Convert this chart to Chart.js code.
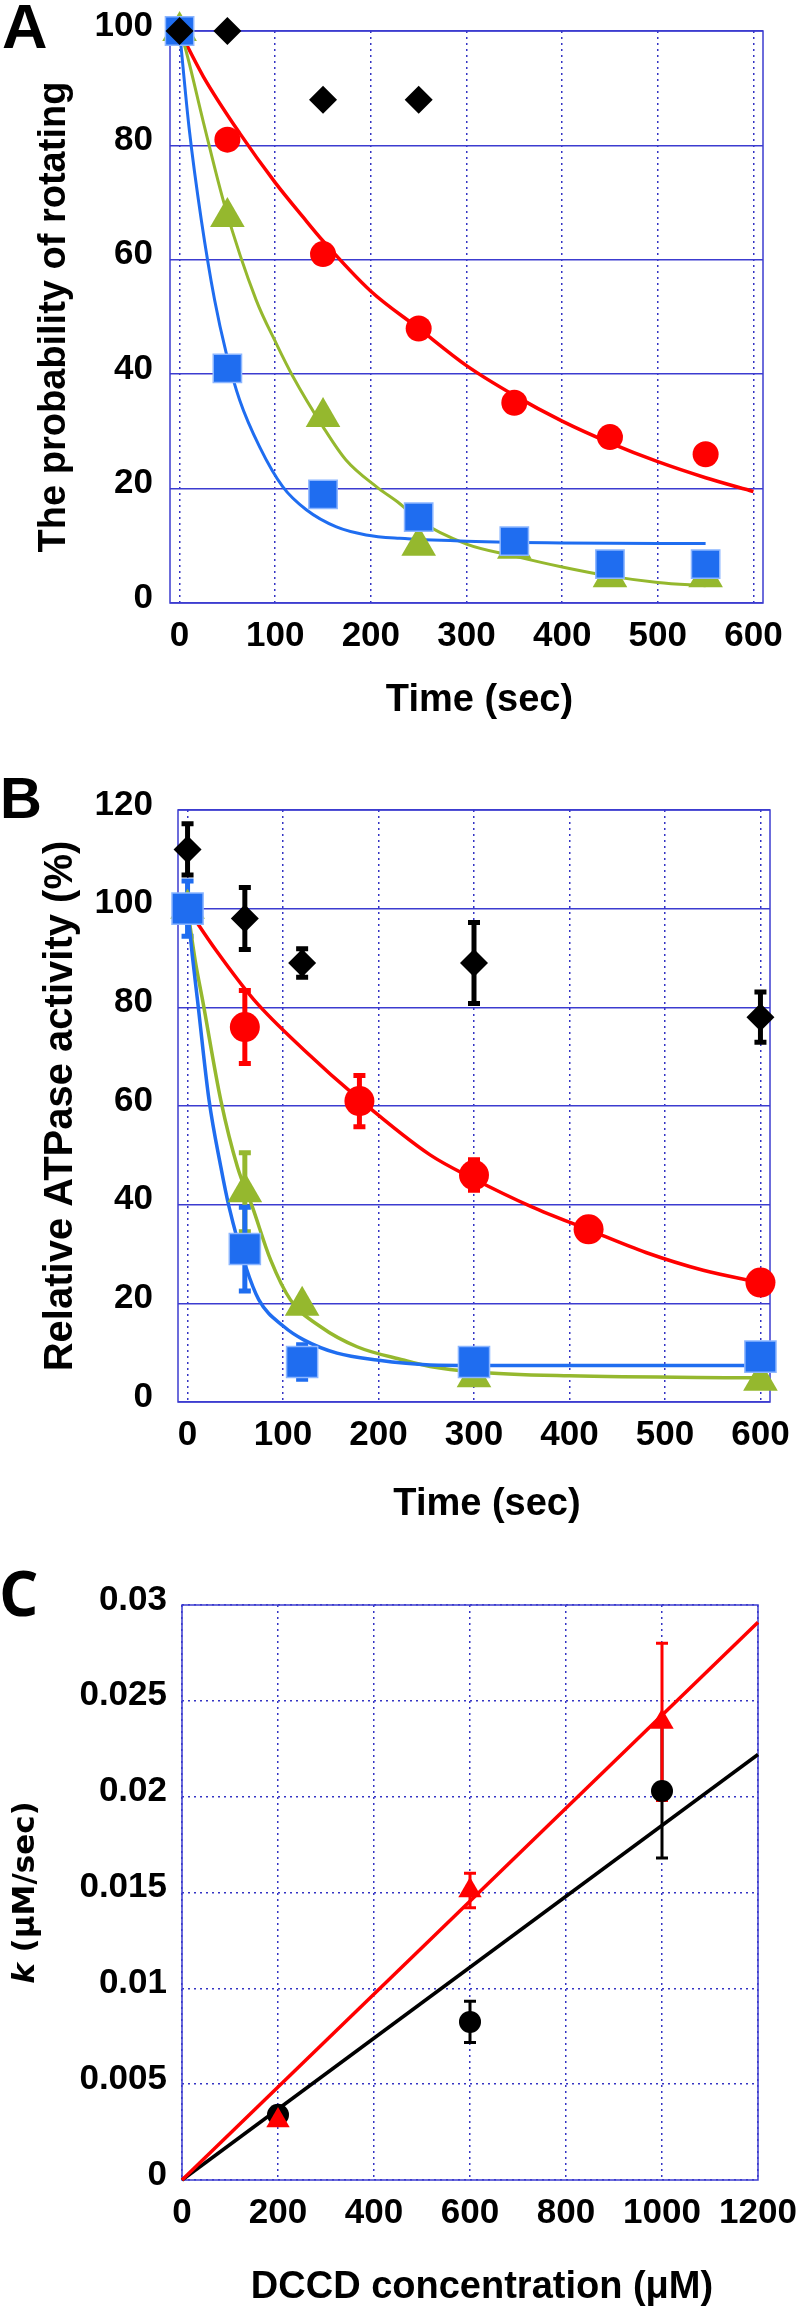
<!DOCTYPE html>
<html>
<head>
<meta charset="utf-8">
<script src="https://cdn.jsdelivr.net/npm/chart.js@4.4.1/dist/chart.umd.min.js"></script>
<style>
html, body { margin: 0; padding: 0; background: #fff; }
body { width: 800px; height: 2306px; position: relative; overflow: hidden; }
canvas { position: absolute; left: 0; }
</style>
</head>
<body>
<canvas id="chartA" width="800" height="730" style="top:0px"></canvas>
<canvas id="chartB" width="800" height="810" style="top:730px"></canvas>
<canvas id="chartC" width="800" height="766" style="top:1540px"></canvas>
<script>
// --- PANEL A: probability of rotating ---
const timeA = [0, 50, 150, 250, 350, 450, 550];
const timeBlackA = [0, 50, 150, 250];
const blackA = [100, 100, 88, 88];
const redA = [100, 81, 61, 48, 35, 29, 26];
const greenA = [100, 67.5, 32.5, 10, 9.5, 4.5, 4.5];
const blueA = [100, 41, 19, 15, 10.8, 6.8, 6.8];

const fitRedAT = [0, 25, 63, 100, 129, 150, 200, 250, 300, 350, 400, 450, 500, 550, 600];
const fitRedA = [100, 92, 82.1, 73.5, 67.5, 63.3, 54.5, 48, 41.5, 36.3, 31.8, 28, 24.7, 21.9, 19.5];
const fitGreenAT = [0, 5, 25, 47, 80, 101, 118.5, 150, 174, 206, 230, 250, 300, 350, 400, 450, 500, 550];
const fitGreenA = [100, 97.6, 84, 69.6, 53, 45.4, 39.6, 30.8, 25, 20.3, 17.4, 14.5, 10.3, 8.2, 6.3, 4.7, 3.6, 3.0];
const fitBlueAT = [0, 10, 22.7, 36.6, 48.8, 62.8, 83.7, 108, 132.5, 164, 195, 230, 300, 400, 550];
const fitBlueA = [100, 83, 67, 53, 43.7, 35.5, 27.3, 20.3, 16.3, 13.3, 11.9, 11.3, 10.8, 10.5, 10.4];

// --- PANEL B: relative ATPase activity ---
const timeB = [0, 60, 120, 300, 600];
const blackB = [112, 98, 89, 89, 78];
const errBlackB = [5.2, 6.3, 2.9, 8.2, 5.1];
const timeRedB = [0, 60, 180, 300, 420, 600];
const redB = [100, 76, 61, 46, 35, 24.2];
const errRedB = [0, 7.4, 5.2, 3.1, 0, 0];
const greenB = [100, 42.5, 19.5, 5, 4.3];
const errGreenB = [0, 8, 0, 0, 0];
const blueB = [100, 31, 8.1, 8.1, 9.2];
const errBlueB = [5.6, 8.5, 3.5, 0, 0];

const fitRedBT = [0, 30, 69.6, 121.7, 178.5, 254, 300, 360, 420, 480, 540, 600];
const fitRedB = [100, 91.5, 81.5, 71.4, 61.6, 50.1, 45.2, 39.6, 34.9, 30.3, 26.7, 24.2];
const fitGreenBT = [0, 8, 15.7, 34.8, 52.2, 67.8, 87, 107.8, 139, 177.5, 226, 254, 300, 400, 600];
const fitGreenB = [100, 89.5, 81.5, 61.2, 47.7, 39.6, 28.8, 20.7, 15.3, 11.2, 8.5, 7.2, 6.1, 5.3, 4.9];
const fitBlueBT = [0, 5, 10.4, 22.5, 34.8, 43.4, 61, 74.7, 100.8, 121.7, 156.6, 198.3, 254, 300, 600];
const fitBlueB = [100, 90.5, 81.5, 61.2, 47.7, 39.6, 27.4, 20.7, 15.3, 12.6, 9.9, 8.5, 7.5, 7.4, 7.4];

// --- PANEL C: k vs DCCD concentration ---
const concC = [200, 600, 1000];
const redC = [0.0031, 0.0151, 0.0239];
const errRedC = [0, 0.0009, 0.0041];
const blackC = [0.0034, 0.00825, 0.0203];
const errBlackC = [0, 0.00107, 0.0035];
const fitConcC = [0, 1200];
const fitRedC = [0, 0.0291];
const fitBlackC = [0, 0.0222];

// Tick labels
const xTicksAB = [0, 100, 200, 300, 400, 500, 600];
const yTicksA = [0, 20, 40, 60, 80, 100];
const yTicksB = [0, 20, 40, 60, 80, 100, 120];
const xTicksC = [0, 200, 400, 600, 800, 1000, 1200];
const yTicksC = [0, 0.005, 0.01, 0.015, 0.02, 0.025, 0.03];
const yLabelsC = ['0', '0.005', '0.01', '0.015', '0.02', '0.025', '0.03'];

// Colours
const RED = '#ff0000';
const GREEN = '#95b82e';
const BLUE = '#1f6df0';
const BLUE_EDGE = '#8cb6ff';
const GRID = '#3c3cd0';
const GRID_DOT = '#3434c4';

Chart.defaults.font.family = "'Liberation Sans', Arial, sans-serif";
Chart.defaults.font.size = 35;
Chart.defaults.font.weight = 'bold';
Chart.defaults.color = '#000';

// --- HELPERS ---
function pts(xs, ys) {
    return xs.map((x, i) => ({ x: x, y: ys[i] }));
}

function markers(label, xs, ys, style, r, color, edge, errs) {
    return {
        label: label, data: pts(xs, ys), showLine: false, clip: false,
        pointStyle: style, pointRadius: r, pointHoverRadius: r,
        backgroundColor: color, borderColor: edge || color,
        pointBorderWidth: edge ? 1.5 : 0,
        errorBars: errs, errorColor: color
    };
}

function curve(label, xs, ys, color, width) {
    return {
        label: label, data: pts(xs, ys), showLine: true, clip: false,
        borderColor: color, borderWidth: width || 3.5, pointRadius: 0, pointHoverRadius: 0,
        cubicInterpolationMode: 'monotone', fill: false
    };
}

function xAxis(ticks, min, max, height, labels) {
    return {
        type: 'linear', min: min, max: max,
        afterBuildTicks: s => { s.ticks = ticks.map(v => ({ value: v })); },
        afterFit: s => { s.height = height; s.paddingLeft = 0; s.paddingRight = 0; },
        ticks: {
            autoSkip: false, maxRotation: 0, minRotation: 0, padding: 12,
            callback: (v, i) => labels ? labels[i] : String(v)
        },
        grid: { color: GRID_DOT, lineWidth: 1.5, drawTicks: false },
        border: { display: false, dash: [2, 4] }
    };
}

function yAxis(ticks, min, max, width, pad, dotted, labels) {
    return {
        type: 'linear', min: min, max: max,
        afterBuildTicks: s => { s.ticks = ticks.map(v => ({ value: v })); },
        afterFit: s => { s.width = width; s.paddingTop = 0; s.paddingBottom = 0; },
        ticks: {
            autoSkip: false, padding: pad, labelOffset: -5,
            callback: (v, i) => labels ? labels[i] : String(v)
        },
        grid: { color: dotted ? GRID_DOT : GRID, lineWidth: 1.5, drawTicks: false },
        border: { display: false, dash: dotted ? [2, 4] : [] }
    };
}

// blue frame round the plot area
const framePlugin = {
    id: 'frame',
    beforeDatasetsDraw(chart) {
        const { ctx, chartArea: a } = chart;
        ctx.save();
        ctx.strokeStyle = GRID;
        ctx.lineWidth = 1.5;
        ctx.strokeRect(a.left, a.top, a.right - a.left, a.bottom - a.top);
        ctx.restore();
    }
};

// vertical error bars, read from dataset.errorBars
function errorBarPlugin(stem, capW, capT) {
    return {
        id: 'errorBars',
        beforeDatasetsDraw(chart) {
            const { ctx, scales } = chart;
            const sets = chart.data.datasets;
            ctx.save();
            ctx.lineCap = 'butt';
            for (let d = sets.length - 1; d >= 0; d--) {
                const ds = sets[d];
                if (!ds.errorBars) continue;
                ctx.strokeStyle = ds.errorColor;
                ds.data.forEach((p, i) => {
                    const e = ds.errorBars[i];
                    if (!e) return;
                    const x = scales.x.getPixelForValue(p.x);
                    const yTop = scales.y.getPixelForValue(p.y + e);
                    const yBot = scales.y.getPixelForValue(p.y - e);
                    ctx.lineWidth = stem;
                    ctx.beginPath();
                    ctx.moveTo(x, yTop); ctx.lineTo(x, yBot);
                    ctx.stroke();
                    ctx.lineWidth = capT;
                    ctx.beginPath();
                    ctx.moveTo(x - capW / 2, yTop); ctx.lineTo(x + capW / 2, yTop);
                    ctx.moveTo(x - capW / 2, yBot); ctx.lineTo(x + capW / 2, yBot);
                    ctx.stroke();
                });
            }
            ctx.restore();
        }
    };
}

// panel letter and axis titles
function textPlugin(cfg) {
    return {
        id: 'panelText',
        afterDraw(chart) {
            const { ctx, chartArea: a } = chart;
            ctx.save();
            ctx.fillStyle = '#000';
            ctx.font = cfg.letter.font;
            ctx.textAlign = 'left';
            ctx.textBaseline = 'alphabetic';
            ctx.fillText(cfg.letter.text, cfg.letter.x, cfg.letter.y);

            ctx.font = cfg.xTitle.font;
            ctx.textAlign = 'center';
            ctx.textBaseline = 'middle';
            ctx.fillText(cfg.xTitle.text, (a.left + a.right) / 2 + cfg.xTitle.dx, cfg.xTitle.y);

            ctx.translate(cfg.yTitle.x, (a.top + a.bottom) / 2);
            ctx.rotate(-Math.PI / 2);
            let total = 0;
            const widths = cfg.yTitle.parts.map(p => {
                ctx.font = p.font;
                const w = ctx.measureText(p.text).width;
                total += w;
                return w;
            });
            let x = -total / 2;
            ctx.textAlign = 'left';
            cfg.yTitle.parts.forEach((p, i) => {
                ctx.font = p.font;
                ctx.fillText(p.text, x, 0);
                x += widths[i];
            });
            ctx.restore();
        }
    };
}

function baseOptions(padding, scales) {
    return {
        responsive: false,
        animation: false,
        events: [],
        layout: { padding: padding },
        plugins: { legend: { display: false }, tooltip: { enabled: false } },
        scales: scales
    };
}

const ARIAL_B = "'Liberation Sans', Arial, sans-serif";

// --- CHART A ---
new Chart(document.getElementById('chartA'), {
    type: 'scatter',
    data: {
        datasets: [
            markers('Control', timeBlackA, blackA, 'rectRot', 14, '#000'),
            markers('Blue', timeA, blueA, 'rect', 20, BLUE, BLUE_EDGE),
            markers('Green', timeA, greenA, 'triangle', 20, GREEN),
            markers('Red', timeA, redA, 'circle', 13, RED),
            curve('Blue fit', fitBlueAT, fitBlueA, BLUE, 3),
            curve('Green fit', fitGreenAT, fitGreenA, GREEN, 3),
            curve('Red fit', fitRedAT, fitRedA, RED, 3.5)
        ]
    },
    options: baseOptions({ left: 0, right: 37, top: 31, bottom: 0 }, {
        x: xAxis(xTicksAB, -10, 610, 127),
        y: yAxis(yTicksA, 0, 100, 170, 17, false)
    }),
    plugins: [framePlugin, textPlugin({
        letter: { text: 'A', font: 'bold 63px ' + ARIAL_B, x: 2, y: 48 },
        xTitle: { text: 'Time (sec)', font: 'bold 38px ' + ARIAL_B, dx: 13, y: 701 },
        yTitle: { x: 55, parts: [{ text: 'The probability of rotating', font: 'bold 38px ' + ARIAL_B }] }
    })]
});

// --- CHART B ---
new Chart(document.getElementById('chartB'), {
    type: 'scatter',
    data: {
        datasets: [
            markers('Control', timeB, blackB, 'rectRot', 14, '#000', null, errBlackB),
            markers('Blue', timeB, blueB, 'rect', 22, BLUE, BLUE_EDGE, errBlueB),
            markers('Green', timeB, greenB, 'triangle', 20, GREEN, null, errGreenB),
            markers('Red', timeRedB, redB, 'circle', 15, RED, null, errRedB),
            curve('Blue fit', fitBlueBT, fitBlueB, BLUE, 3.5),
            curve('Green fit', fitGreenBT, fitGreenB, GREEN, 3.5),
            curve('Red fit', fitRedBT, fitRedB, RED, 3.5)
        ]
    },
    options: baseOptions({ left: 0, right: 30, top: 80, bottom: 0 }, {
        x: xAxis(xTicksAB, -10, 610, 138),
        y: yAxis(yTicksB, 0, 120, 178, 25, false)
    }),
    plugins: [framePlugin, errorBarPlugin(5, 12, 5), textPlugin({
        letter: { text: 'B', font: 'bold 58px ' + ARIAL_B, x: 0, y: 88 },
        xTitle: { text: 'Time (sec)', font: 'bold 38px ' + ARIAL_B, dx: 13, y: 775 },
        yTitle: { x: 61, parts: [{ text: 'Relative ATPase activity (%)', font: 'bold 40px ' + ARIAL_B }] }
    })]
});

// --- CHART C ---
new Chart(document.getElementById('chartC'), {
    type: 'scatter',
    data: {
        datasets: [
            markers('Rotation', concC, redC, 'triangle', 13.5, RED, null, errRedC),
            markers('ATPase', concC, blackC, 'circle', 11, '#000', null, errBlackC),
            curve('Rotation fit', fitConcC, fitRedC, RED, 3.5),
            curve('ATPase fit', fitConcC, fitBlackC, '#000', 3.5)
        ]
    },
    options: baseOptions({ left: 0, right: 42, top: 65, bottom: 0 }, {
        x: xAxis(xTicksC, 0, 1200, 126),
        y: yAxis(yTicksC, 0, 0.03, 182, 15, true, yLabelsC)
    }),
    plugins: [framePlugin, errorBarPlugin(3, 12, 3), textPlugin({
        letter: { text: 'C', font: "bold 62px 'Open Sans', sans-serif", x: -1, y: 76 },
        xTitle: { text: 'DCCD concentration (\u03bcM)', font: 'bold 38px ' + ARIAL_B, dx: 12, y: 748 },
        yTitle: { x: 26, parts: [
            { text: 'k', font: "italic bold 31px 'DejaVu Sans', sans-serif" },
            { text: ' (\u03bcM/sec)', font: "bold 31px 'DejaVu Sans', sans-serif" }
        ] }
    })]
});
</script>
</body>
</html>
